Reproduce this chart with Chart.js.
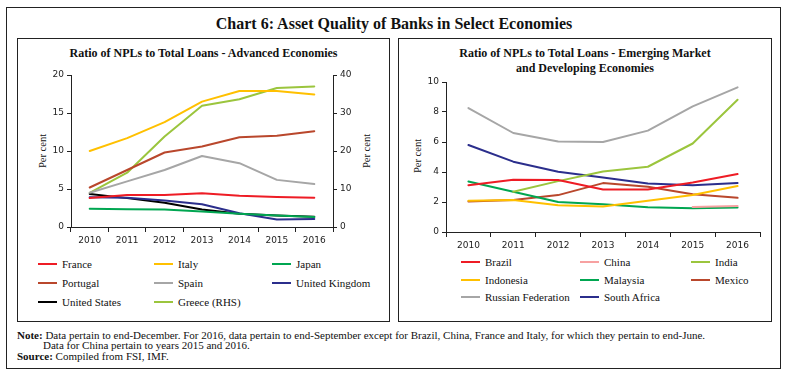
<!DOCTYPE html>
<html>
<head>
<meta charset="utf-8">
<script src="https://cdn.jsdelivr.net/npm/chart.js@4.4.1/dist/chart.umd.min.js"></script>
<style>
  body { margin: 0; background: #fff; width: 788px; height: 374px; position: relative; overflow: hidden; font-family: "Liberation Serif", serif; color: #111; }
  .box { position: absolute; border: 1px solid #222; box-sizing: border-box; }
  .abs { position: absolute; white-space: nowrap; }
  .title { left: 0; width: 788px; top: 14px; text-align: center; font-weight: bold; font-size: 16px; line-height: 20px; }
  .ptitle { font-weight: bold; font-size: 12px; text-align: center; line-height: 14.5px; }
  .ylab { font-size: 10.5px; transform: translate(-50%, -50%) rotate(-90deg); }
  .wrap { position: absolute; }
  .legend { position: absolute; font-size: 11px; }
  .legend .item { position: absolute; white-space: nowrap; line-height: 14px; }
  .legend .sw { display: inline-block; width: 19px; height: 2px; vertical-align: middle; margin-right: 5px; position: relative; top: -1px; }
  .note { font-size: 11px; line-height: 11px; }
</style>
</head>
<body>
<div class="box" style="left:6px;top:7px;width:775px;height:362px;border-width:1.5px;"></div>
<div class="abs title">Chart 6: Asset Quality of Banks in Select Economies</div>

<div class="box" style="left:17px;top:38px;width:373px;height:284px;"></div>
<div class="box" style="left:398px;top:38px;width:374px;height:284px;"></div>

<div class="abs ptitle" style="left:17px;width:373px;top:46px;">Ratio of NPLs to Total Loans - Advanced Economies</div>
<div class="abs ptitle" style="left:398px;width:374px;top:46px;">Ratio of NPLs to Total Loans - Emerging Market<br>and Developing Economies</div>

<div class="abs ylab" style="left:42px;top:151px;">Per cent</div>
<div class="abs ylab" style="left:366px;top:151px;">Per cent</div>
<div class="abs ylab" style="left:417px;top:156px;">Per cent</div>

<div class="wrap" style="left:17px;top:65px;"><canvas id="advChart" width="372" height="185"></canvas></div>
<div class="wrap" style="left:397px;top:72px;"><canvas id="emeChart" width="374" height="183"></canvas></div>

<div class="legend" id="advLegend"></div>
<div class="legend" id="emeLegend"></div>

<div class="abs note" style="left:17px;top:329.5px;"><b>Note:</b> Data pertain to end-December. For 2016, data pertain to end-September except for Brazil, China, France and Italy, for which they pertain to end-June.</div>
<div class="abs note" style="left:43px;top:340px;">Data for China pertain to years 2015 and 2016.</div>
<div class="abs note" style="left:17px;top:351px;"><b>Source:</b> Compiled from FSI, IMF.</div>

<script>
// Years on the x axis
const years = ['2010', '2011', '2012', '2013', '2014', '2015', '2016'];

// Advanced economies (per cent); Greece is on the right-hand axis
const france = [3.8, 4.2, 4.2, 4.45, 4.1, 3.95, 3.85];
const italy = [10.0, 11.7, 13.8, 16.5, 17.9, 17.9, 17.45];
const japan = [2.4, 2.35, 2.3, 2.05, 1.75, 1.5, 1.3];
const portugal = [5.2, 7.5, 9.8, 10.6, 11.8, 12.0, 12.6];
const spain = [4.5, 6.0, 7.5, 9.35, 8.4, 6.2, 5.65];
const unitedKingdom = [3.9, 3.85, 3.5, 3.0, 1.8, 1.0, 1.05];
const unitedStates = [4.35, 3.8, 3.2, 2.3, 1.75, 1.5, 1.35];
const greece = [9.0, 14.3, 23.8, 31.9, 33.6, 36.6, 37.0];

// Emerging market and developing economies (per cent)
const brazil = [3.12, 3.48, 3.46, 2.83, 2.83, 3.3, 3.86];
const china = [null, null, null, null, null, 1.67, 1.74];
const india = [null, 2.68, 3.39, 4.04, 4.35, 5.9, 8.82];
const indonesia = [2.08, 2.14, 1.79, 1.7, 2.08, 2.46, 3.06];
const malaysia = [3.37, 2.68, 2.0, 1.85, 1.65, 1.58, 1.63];
const mexico = [2.03, 2.14, 2.46, 3.26, 3.01, 2.52, 2.28];
const russia = [8.26, 6.6, 6.03, 6.0, 6.76, 8.37, 9.64];
const southAfrica = [5.8, 4.69, 4.02, 3.64, 3.24, 3.12, 3.26];

// Axis ticks
const advLeftTicks = [0, 5, 10, 15, 20];
const advRightTicks = [0, 10, 20, 30, 40];
const emeTicks = [0, 2, 4, 6, 8, 10];

const RED = '#EE1C25', YELLOW = '#FFC000', GREEN = '#00A651', BROWN = '#B9472C',
      GRAY = '#A6A6A6', NAVY = '#2B2E8C', BLACK = '#000000', LIME = '#9BC53D', PINK = '#F7A1A1';

const advSeries = [
  { label: 'France', data: france, color: RED },
  { label: 'Italy', data: italy, color: YELLOW },
  { label: 'Japan', data: japan, color: GREEN },
  { label: 'Portugal', data: portugal, color: BROWN },
  { label: 'Spain', data: spain, color: GRAY },
  { label: 'United Kingdom', data: unitedKingdom, color: NAVY },
  { label: 'United States', data: unitedStates, color: BLACK },
  { label: 'Greece (RHS)', data: greece, color: LIME, axis: 'y1' }
];

const emeSeries = [
  { label: 'Brazil', data: brazil, color: RED },
  { label: 'China', data: china, color: PINK },
  { label: 'India', data: india, color: LIME },
  { label: 'Indonesia', data: indonesia, color: YELLOW },
  { label: 'Malaysia', data: malaysia, color: GREEN },
  { label: 'Mexico', data: mexico, color: BROWN },
  { label: 'Russian Federation', data: russia, color: GRAY },
  { label: 'South Africa', data: southAfrica, color: NAVY }
];

const tickFont = { family: 'DejaVu Sans', size: 9 };

function makeDatasets(series) {
  return series.map(s => ({
    label: s.label,
    data: s.data,
    borderColor: s.color,
    backgroundColor: s.color,
    borderWidth: 2,
    pointRadius: 0,
    tension: 0,
    yAxisID: s.axis || 'y'
  }));
}

function yScale(ticks, position, width) {
  return {
    position: position,
    min: ticks[0],
    max: ticks[ticks.length - 1],
    afterBuildTicks: axis => { axis.ticks = ticks.map(v => ({ value: v })); },
    afterFit: axis => { axis.width = width; },
    ticks: { font: tickFont, color: '#222', padding: 3 },
    grid: { drawOnChartArea: false, drawTicks: true, tickLength: 4, color: '#222' },
    border: { display: true, color: '#222', width: 1 }
  };
}

function xScale() {
  return {
    offset: true,
    afterFit: axis => { axis.height = 23; },
    ticks: { font: tickFont, color: '#222', padding: 3, maxRotation: 0, autoSkip: false },
    grid: { offset: true, drawOnChartArea: false, drawTicks: true, tickLength: 5, color: '#222' },
    border: { display: true, color: '#222', width: 1 }
  };
}

const baseOptions = {
  responsive: false,
  animation: false,
  plugins: { legend: { display: false }, tooltip: { enabled: false } },
  elements: { line: { borderCapStyle: 'round', borderJoinStyle: 'round' } }
};

// Advanced economies chart
new Chart(document.getElementById('advChart').getContext('2d'), {
  type: 'line',
  data: { labels: years, datasets: makeDatasets(advSeries) },
  options: Object.assign({}, baseOptions, {
    layout: { padding: { top: 10, left: 0, right: 0, bottom: 0 } },
    scales: {
      x: xScale(),
      y: yScale(advLeftTicks, 'left', 54),
      y1: yScale(advRightTicks, 'right', 56)
    }
  })
});

// Emerging market chart
new Chart(document.getElementById('emeChart').getContext('2d'), {
  type: 'line',
  data: { labels: years, datasets: makeDatasets(emeSeries) },
  options: Object.assign({}, baseOptions, {
    layout: { padding: { top: 10, left: 0, right: 11, bottom: 0 } },
    scales: {
      x: xScale(),
      y: yScale(emeTicks, 'left', 49)
    }
  })
});

// Legends, three columns
function buildLegend(id, series, cols, rows) {
  const el = document.getElementById(id);
  series.forEach((s, i) => {
    const item = document.createElement('div');
    item.className = 'item';
    item.style.left = cols[i % 3] + 'px';
    item.style.top = (rows[Math.floor(i / 3)] - 7) + 'px';
    item.innerHTML = '<span class="sw" style="background:' + s.color + '"></span>' + s.label;
    el.appendChild(item);
  });
}
buildLegend('advLegend', advSeries, [38, 154, 272], [264, 283, 301.5]);
buildLegend('emeLegend', emeSeries, [461, 580, 691], [262, 280, 297]);
</script>
</body>
</html>
